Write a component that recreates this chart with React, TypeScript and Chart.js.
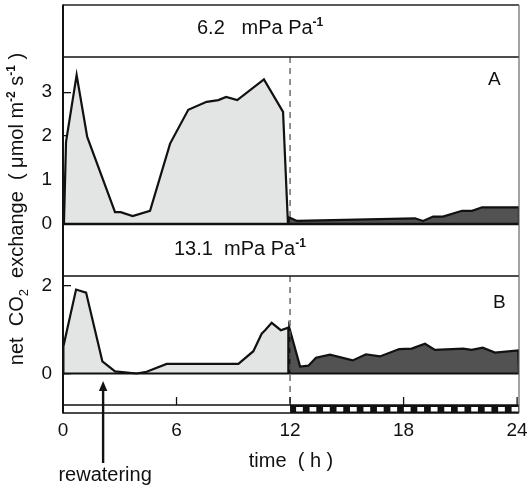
import React, { useEffect, useRef } from "react";
import { Chart, registerables } from "chart.js";

Chart.register(...registerables);

const FONT = "'Liberation Sans', Arial, Helvetica, sans-serif";

// ---- axes ----
const xTicks = [0, 6, 12, 18, 24];
const xMin = 0;
const xMax = 24.1;
const yTicksA = [0, 1, 2, 3];
const yRangeA = [0, 3.8];
const yTicksB = [0, 2];
const yRangeB = [-0.72, 2.23];

// ---- panel A (6.2 mPa Pa-1) ----
const lightAHours = [0.05, 0.16, 0.72, 1.28, 2.75, 3.05, 3.68, 4.6, 5.66, 6.62, 7.59, 8.21, 8.62, 9.21, 10.62, 11.63, 11.89];
const lightAValues = [0, 1.87, 3.39, 1.98, 0.27, 0.27, 0.18, 0.3, 1.83, 2.6, 2.78, 2.82, 2.89, 2.82, 3.29, 2.55, 0];
const darkAHours = [11.92, 11.95, 12.37, 18.6, 19.03, 19.56, 20.08, 21.09, 21.62, 22.15, 24.1, 24.1];
const darkAValues = [0, 0.15, 0.07, 0.13, 0.07, 0.17, 0.17, 0.3, 0.3, 0.38, 0.38, 0];

// ---- panel B (13.1 mPa Pa-1) ----
const lightBHours = [0, 0.02, 0.69, 1.22, 2.08, 2.75, 3.89, 4.42, 5.48, 9.27, 10.06, 10.5, 10.68, 11.03, 11.51, 11.91, 11.91];
const lightBValues = [0, 0.62, 1.92, 1.85, 0.28, 0.05, 0.0, 0.04, 0.22, 0.22, 0.51, 0.91, 0.99, 1.16, 0.99, 1.05, 0];
const darkBHours = [11.96, 11.96, 12.53, 12.97, 13.37, 14.11, 15.31, 16.01, 16.75, 17.77, 18.43, 19.13, 19.66, 21.15, 21.6, 22.18, 22.83, 24.06, 24.1];
const darkBValues = [0, 1.05, 0.16, 0.18, 0.36, 0.43, 0.3, 0.44, 0.39, 0.56, 0.57, 0.68, 0.54, 0.57, 0.54, 0.59, 0.48, 0.53, 0];

// ---- texts / annotations ----
const headerValues = ["6.2", "13.1"];
const headerUnit = "mPa Pa";
const headerExp = "-1";
const panelLabels = ["A", "B"];
const xTitle = "time  ( h )";
const switchHour = 12;
const rewateringHour = 2.12;
const rewateringLabel = "rewatering";
const pulseCount = 17;

const LIGHT = "#e3e4e4";
const DARK = "#525252";
const INK = "#111111";

const toPoints = (xs: number[], ys: number[]) => xs.map((x, i) => ({ x, y: ys[i] }));

type Run = { text: string; size: number; bold?: boolean; dy?: number };

function runsWidth(ctx: CanvasRenderingContext2D, runs: Run[]) {
  let w = 0;
  for (const r of runs) {
    ctx.font = `${r.bold ? "bold " : ""}${r.size}px ${FONT}`;
    w += ctx.measureText(r.text).width;
  }
  return w;
}

function drawRuns(ctx: CanvasRenderingContext2D, runs: Run[], x: number, y: number) {
  let cx = x;
  for (const r of runs) {
    ctx.font = `${r.bold ? "bold " : ""}${r.size}px ${FONT}`;
    ctx.fillText(r.text, cx, y + (r.dy || 0));
    cx += ctx.measureText(r.text).width;
  }
}

const zeroPad = (s: any) => {
  s.paddingTop = 0;
  s.paddingBottom = 0;
  s.paddingLeft = 0;
  s.paddingRight = 0;
};

const decorPlugin = {
  id: "decor",
  afterDatasetsDraw(chart: any) {
    const { ctx, chartArea: area, scales } = chart;
    const x = scales.x;
    const yA = scales.yA;
    const yB = scales.yB;
    const hA = scales.hdrA;
    const hB = scales.hdrB;
    const st = scales.strip;
    const L = area.left;
    const R = area.right;
    ctx.save();

    // light regime strip
    const xs = x.getPixelForValue(switchHour);
    ctx.fillStyle = "#ffffff";
    ctx.fillRect(L, st.top, R - L, st.bottom - st.top);
    ctx.fillStyle = INK;
    ctx.fillRect(xs, st.top, R - xs, st.bottom - st.top);
    const period = (xMax - switchHour) / pulseCount;
    ctx.fillStyle = "#ffffff";
    for (let i = 0; i < pulseCount; i++) {
      const a = x.getPixelForValue(switchHour + (i + 0.45) * period);
      const b = x.getPixelForValue(switchHour + (i + 0.95) * period);
      ctx.fillRect(a, st.top + 2, b - a, st.bottom - st.top - 3.5);
    }

    // dashed line at switch
    ctx.setLineDash([6, 5]);
    ctx.strokeStyle = "#555";
    ctx.lineWidth = 1.3;
    for (const s of [yA, yB]) {
      ctx.beginPath();
      ctx.moveTo(xs, s.top);
      ctx.lineTo(xs, s.bottom);
      ctx.stroke();
    }
    ctx.setLineDash([]);

    // inner x ticks in panel B
    ctx.strokeStyle = INK;
    ctx.lineWidth = 1.3;
    for (const v of xTicks) {
      const px = x.getPixelForValue(v);
      ctx.beginPath();
      ctx.moveTo(px, yB.bottom);
      ctx.lineTo(px, yB.bottom - 8);
      ctx.stroke();
    }

    const hline = (y: number, w: number, c: string) => {
      ctx.strokeStyle = c;
      ctx.lineWidth = w;
      ctx.beginPath();
      ctx.moveTo(L, y);
      ctx.lineTo(R, y);
      ctx.stroke();
    };
    hline(hA.top, 1.3, "#222");
    hline(hA.bottom, 1.3, INK);
    hline(hB.bottom, 1.3, INK);
    hline(yB.bottom, 1.3, INK);
    hline(st.bottom, 1.5, INK);
    hline(yA.getPixelForValue(0), 2.6, INK);
    hline(yB.getPixelForValue(0), 2.2, INK);

    // verticals
    ctx.strokeStyle = INK;
    ctx.lineWidth = 2;
    ctx.beginPath();
    ctx.moveTo(L, hA.top - 0.5);
    ctx.lineTo(L, st.bottom + 0.5);
    ctx.stroke();
    ctx.strokeStyle = "#666";
    ctx.lineWidth = 1.2;
    ctx.beginPath();
    ctx.moveTo(R, hA.top);
    ctx.lineTo(R, st.bottom);
    ctx.stroke();

    // headers
    ctx.fillStyle = INK;
    ctx.textAlign = "left";
    ctx.textBaseline = "alphabetic";
    const hdrRuns = (v: string, gap: string): Run[] => [
      { text: v + gap + headerUnit, size: 20 },
      { text: headerExp, size: 12, bold: true, dy: -8 },
    ];
    drawRuns(ctx, hdrRuns(headerValues[0], "   "), L + 134, hA.top + 29);
    drawRuns(ctx, hdrRuns(headerValues[1], "  "), L + 111, hB.top + 31);

    // panel labels
    ctx.font = `19px ${FONT}`;
    ctx.fillText(panelLabels[0], R - 31, yA.top + 28);
    ctx.fillText(panelLabels[1], R - 26, yB.top + 32);

    // y title
    const titleRuns: Run[] = [
      { text: "net  CO", size: 20 },
      { text: "2", size: 13, dy: 5 },
      { text: "  exchange  ( \u03bcmol m", size: 20 },
      { text: "-2", size: 12, bold: true, dy: -8 },
      { text: " s", size: 20 },
      { text: "-1", size: 12, bold: true, dy: -8 },
      { text: " )", size: 20 },
    ];
    const tw = runsWidth(ctx, titleRuns);
    ctx.save();
    ctx.translate(23, (hA.top + st.bottom) / 2);
    ctx.rotate(-Math.PI / 2);
    drawRuns(ctx, titleRuns, -tw / 2, 0);
    ctx.restore();

    // rewatering arrow
    const ax = x.getPixelForValue(rewateringHour);
    const tipY = area.bottom - 32;
    const tailY = area.bottom + 50;
    ctx.strokeStyle = INK;
    ctx.lineWidth = 2.4;
    ctx.beginPath();
    ctx.moveTo(ax, tailY);
    ctx.lineTo(ax, tipY + 6);
    ctx.stroke();
    ctx.fillStyle = INK;
    ctx.beginPath();
    ctx.moveTo(ax, tipY);
    ctx.lineTo(ax - 4.2, tipY + 10);
    ctx.lineTo(ax + 4.2, tipY + 10);
    ctx.closePath();
    ctx.fill();
    ctx.font = `20px ${FONT}`;
    ctx.textAlign = "center";
    ctx.fillText(rewateringLabel, ax + 2, area.bottom + 68);

    ctx.restore();
  },
};

export default function App() {
  const ref = useRef<HTMLCanvasElement>(null);
  useEffect(() => {
    const canvas = ref.current;
    if (!canvas) return;
    Chart.defaults.font.family = FONT;
    Chart.defaults.color = INK;
    const lineStyle = {
      borderColor: INK,
      borderWidth: 2.2,
      pointRadius: 0,
      tension: 0,
      fill: "origin" as const,
    };
    const hidden = (weight: number, stackWeight: number) => ({
      type: "linear" as const,
      display: false,
      position: "left" as const,
      stack: "panels",
      stackWeight,
      weight,
      min: 0,
      max: 1,
      afterFit: zeroPad,
    });
    const yScale = (weight: number, stackWeight: number, range: number[], ticks: number[]) => ({
      type: "linear" as const,
      position: "left" as const,
      stack: "panels",
      stackWeight,
      weight,
      min: range[0],
      max: range[1],
      afterBuildTicks: (s: any) => {
        s.ticks = ticks.map((v) => ({ value: v }));
      },
      afterFit: (s: any) => {
        s.width = 63;
        zeroPad(s);
      },
      grid: { drawOnChartArea: false, drawTicks: true, tickLength: -8, color: INK, lineWidth: 1.3 },
      border: { display: false },
      ticks: { font: { size: 19, family: FONT }, color: INK, padding: 19 },
    });
    const chart = new Chart(canvas, {
      type: "line",
      data: {
        datasets: [
          { ...lineStyle, label: "A light", data: toPoints(lightAHours, lightAValues), yAxisID: "yA", backgroundColor: LIGHT },
          { ...lineStyle, label: "A dark", data: toPoints(darkAHours, darkAValues), yAxisID: "yA", backgroundColor: DARK },
          { ...lineStyle, label: "B light", data: toPoints(lightBHours, lightBValues), yAxisID: "yB", backgroundColor: LIGHT },
          { ...lineStyle, label: "B dark", data: toPoints(darkBHours, darkBValues), yAxisID: "yB", backgroundColor: DARK },
        ],
      },
      options: {
        responsive: false,
        animation: false,
        devicePixelRatio: 1,
        layout: { padding: { top: 5, right: 8, left: 0, bottom: 0 } },
        plugins: { legend: { display: false }, tooltip: { enabled: false } },
        scales: {
          x: {
            type: "linear",
            position: "bottom",
            min: xMin,
            max: xMax,
            afterBuildTicks: (s: any) => {
              s.ticks = xTicks.map((v) => ({ value: v }));
            },
            afterFit: (s: any) => {
              s.height = 79;
              zeroPad(s);
            },
            grid: { display: false, drawTicks: false },
            border: { display: false },
            ticks: { font: { size: 19, family: FONT }, color: INK, padding: 6, maxRotation: 0, autoSkip: false },
            title: { display: true, text: xTitle, font: { size: 20, family: FONT }, color: INK, padding: { top: 0, bottom: 19 } },
          },
          strip: hidden(1, 8),
          yB: yScale(2, 129, yRangeB, yTicksB),
          hdrB: hidden(3, 52),
          yA: yScale(4, 167, yRangeA, yTicksA),
          hdrA: hidden(5, 52),
        } as any,
      },
      plugins: [decorPlugin],
    });
    return () => chart.destroy();
  }, []);
  return (
    <div style={{ position: "fixed", left: 0, top: 0, width: 527, height: 492, background: "#fff" }}>
      <canvas ref={ref} width={527} height={492} style={{ display: "block", width: 527, height: 492 }} />
    </div>
  );
}
